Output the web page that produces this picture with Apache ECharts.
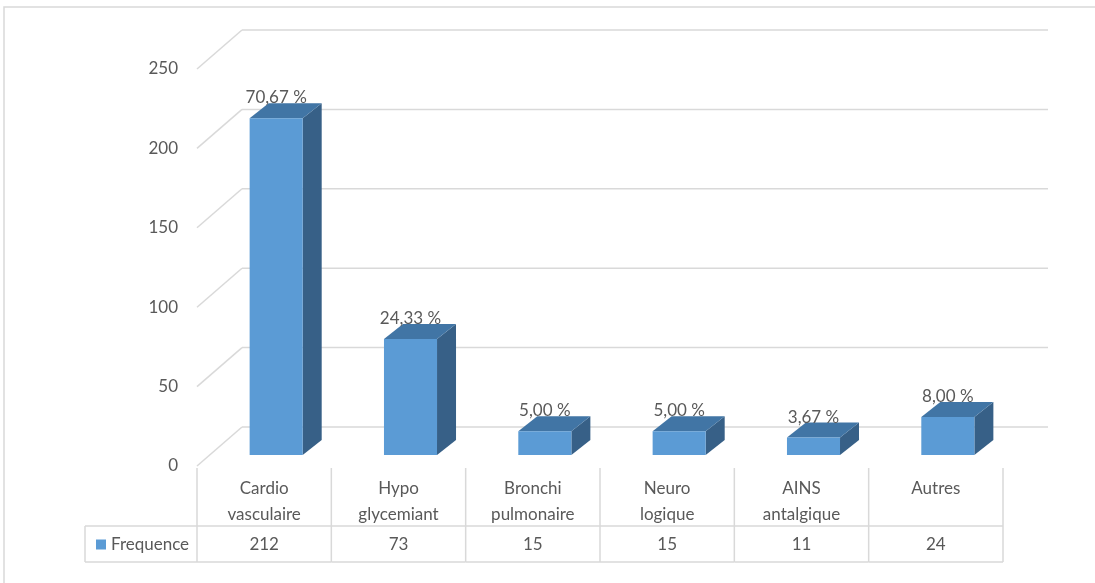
<!DOCTYPE html>
<html>
<head>
<meta charset="utf-8">
<script src="https://cdn.jsdelivr.net/npm/echarts@6/dist/echarts.min.js"></script>
<style>
  html, body { margin: 0; padding: 0; background: #fff; }
  #chart { width: 1095px; height: 583px; }
</style>
</head>
<body>
<div id="chart"></div>
<script>
var categories = ['Cardio\nvasculaire', 'Hypo\nglycemiant', 'Bronchi\npulmonaire', 'Neuro\nlogique', 'AINS\nantalgique', 'Autres\n '];
var frequence = [212, 73, 15, 15, 11, 24];
var percentLabels = ['70,67 %', '24,33 %', '5,00 %', '5,00 %', '3,67 %', '8,00 %'];
var yTicks = [0, 50, 100, 150, 200, 250];

var FONT = 'Lato';
var TXT = '#595959';
var GRID = '#d9d9d9';
// fake 3d offsets (px)
var WALL_DX = 45, WALL_DY = -39;
var BAR_DX = 12, BAR_DY = -11, DEPTH_X = 19, DEPTH_Y = -15;
var TABLE_LEFT = 85;

var chart = echarts.init(document.getElementById('chart'));

function wallItem(params, api) {
  var cs = params.coordSys;
  var y = api.coord([0, api.value(1)])[1];
  var x0 = cs.x, x1 = cs.x + cs.width;
  var st = { stroke: GRID, lineWidth: 1.5 };
  return {
    type: 'group',
    children: [
      { type: 'line', shape: { x1: x0, y1: y, x2: x0 + WALL_DX, y2: y + WALL_DY }, style: st },
      { type: 'line', shape: { x1: x0 + WALL_DX, y1: y + WALL_DY, x2: x1 + WALL_DX, y2: y + WALL_DY }, style: st }
    ]
  };
}

function barItem(params, api) {
  var i = api.value(0), v = api.value(1);
  var top = api.coord([i, v]), base = api.coord([i, 0]);
  var w = api.size([1, 0])[0] * 0.395;
  var xl = top[0] - w / 2 + BAR_DX, xr = xl + w;
  var yt = top[1] + BAR_DY, yb = base[1] + BAR_DY;
  return {
    type: 'group',
    children: [
      { type: 'polygon', shape: { points: [[xr, yb], [xr, yt], [xr + DEPTH_X, yt + DEPTH_Y], [xr + DEPTH_X, yb + DEPTH_Y]] },
        style: { fill: '#376087' } },
      { type: 'polygon', shape: { points: [[xl, yt], [xr, yt], [xr + DEPTH_X, yt + DEPTH_Y], [xl + DEPTH_X, yt + DEPTH_Y]] },
        style: { fill: '#4175a5' } },
      { type: 'rect', shape: { x: xl, y: yt, width: w, height: yb - yt },
        style: { fill: '#5b9bd5' } },
      { type: 'text', x: (xl + xr) / 2, y: yt + DEPTH_Y + 3,
        style: { text: percentLabels[i], fill: TXT, font: '17px ' + FONT, align: 'center', verticalAlign: 'bottom' } }
    ]
  };
}

function tableItem(params, api) {
  var i = api.value(0);
  var c = api.coord([i, 0]);
  var bw = api.size([1, 0])[0];
  var xl = c[0] - bw / 2, xr = c[0] + bw / 2, y0 = c[1];
  var st = { stroke: GRID, lineWidth: 1.5 };
  var kids = [
    { type: 'line', shape: { x1: xl, y1: y0 + 2, x2: xl, y2: y0 + 96 }, style: st },
    { type: 'line', shape: { x1: xl, y1: y0 + 60, x2: xr, y2: y0 + 60 }, style: st },
    { type: 'line', shape: { x1: xl, y1: y0 + 96, x2: xr, y2: y0 + 96 }, style: st },
    { type: 'text', x: c[0], y: y0 + 79,
      style: { text: String(api.value(1)), fill: TXT, font: '17px ' + FONT, align: 'center', verticalAlign: 'middle' } }
  ];
  if (i === categories.length - 1) {
    kids.push({ type: 'line', shape: { x1: xr, y1: y0 + 2, x2: xr, y2: y0 + 96 }, style: st });
  }
  if (i === 0) {
    kids.push({ type: 'line', shape: { x1: TABLE_LEFT, y1: y0 + 60, x2: xl, y2: y0 + 60 }, style: st });
    kids.push({ type: 'line', shape: { x1: TABLE_LEFT, y1: y0 + 96, x2: xl, y2: y0 + 96 }, style: st });
    kids.push({ type: 'line', shape: { x1: TABLE_LEFT, y1: y0 + 60, x2: TABLE_LEFT, y2: y0 + 96 }, style: st });
  }
  return { type: 'group', children: kids };
}

var option = {
  animation: false,
  backgroundColor: '#fff',
  textStyle: { fontFamily: FONT },
  graphic: [
    { type: 'rect', shape: { x: 4, y: 7, width: 1200, height: 700 }, style: { fill: 'none', stroke: GRID, lineWidth: 1.5 } }
  ],
  legend: {
    data: ['Frequence'],
    left: 91, top: 531,
    icon: 'rect', itemWidth: 10, itemHeight: 10,
    textStyle: { color: TXT, fontSize: 17, fontFamily: FONT }
  },
  grid: { left: 197, right: 92, top: 69, bottom: 117 },
  xAxis: {
    type: 'category',
    data: categories,
    axisLine: { show: false },
    axisTick: { show: false },
    axisLabel: { color: TXT, fontSize: 17, fontFamily: FONT, lineHeight: 26, margin: 10, interval: 0 }
  },
  yAxis: {
    type: 'value',
    min: 0, max: 250, interval: 50,
    axisLine: { show: false },
    axisTick: { show: false },
    splitLine: { show: false },
    axisLabel: { color: TXT, fontSize: 17, fontFamily: FONT, margin: 19, padding: [3, 0, 0, 0] }
  },
  series: [
    {
      type: 'custom', name: 'walls', z: 1, silent: true,
      renderItem: wallItem,
      data: yTicks.map(function (v) { return [0, v]; })
    },
    {
      type: 'custom', name: 'Frequence', z: 3,
      itemStyle: { color: '#5b9bd5' },
      renderItem: barItem,
      data: frequence.map(function (v, i) { return [i, v]; })
    },
    {
      type: 'custom', name: 'table', z: 2, silent: true,
      renderItem: tableItem,
      data: frequence.map(function (v, i) { return [i, v]; })
    }
  ]
};
chart.setOption(option);
</script>
</body>
</html>
